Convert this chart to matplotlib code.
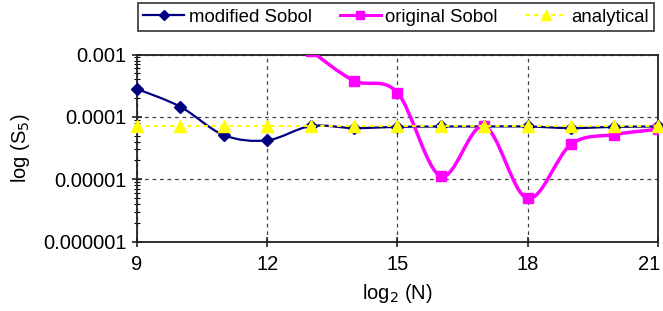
import numpy as np
import matplotlib.pyplot as plt
from matplotlib.path import Path
from matplotlib.patches import PathPatch
from matplotlib.lines import Line2D
import matplotlib.transforms as mtransforms

plt.rcParams['font.family'] = ['Liberation Sans', 'DejaVu Sans']

# data
n_mod = [9, 10, 11, 12, 13, 14, 15, 16, 17, 18, 19, 20, 21]
s_mod = [2.8e-4, 1.45e-4, 5.1e-5, 4.2e-5, 7.1e-5, 6.6e-5, 6.9e-5,
         7.0e-5, 7.0e-5, 7.0e-5, 6.6e-5, 6.9e-5, 7.0e-5]
n_orig = [13, 14, 15, 16, 17, 18, 19, 20, 21]
s_orig = [1.15e-3, 3.8e-4, 2.45e-4, 1.12e-5, 7.1e-5, 4.9e-6, 3.6e-5, 5.2e-5, 6.3e-5]
n_an = [9, 10, 11, 12, 13, 14, 15, 16, 17, 18, 19, 20, 21]
s_an = [7.2e-5] * 13

yticks = [1e-3, 1e-4, 1e-5, 1e-6]
ylabels = ['0.001', '0.0001', '0.00001', '0.000001']
xticks = [9, 12, 15, 18, 21]


def smooth_path(x, y, t=1/6):
    # excel-like smoothed line: bezier segments in (x, log y) space
    x = np.asarray(x, float)
    ly = np.log10(y)
    pts = np.column_stack([x, ly])
    verts = [pts[0]]
    codes = [Path.MOVETO]
    n = len(pts)
    for i in range(n - 1):
        p0 = pts[max(i - 1, 0)]
        p1 = pts[i]
        p2 = pts[i + 1]
        p3 = pts[min(i + 2, n - 1)]
        c1 = p1 + (p2 - p0) * t
        c2 = p2 - (p3 - p1) * t
        verts += [c1, c2, p2]
        codes += [Path.CURVE4] * 3
    verts = np.array(verts)
    verts[:, 1] = 10 ** verts[:, 1]
    return Path(verts, codes)


fig = plt.figure(figsize=(6.63, 3.11), dpi=100)
ax = fig.add_axes([137 / 663, 1 - 241.5 / 311, 520.7 / 663, 187 / 311])
ax.set_yscale('log')
ax.set_xlim(9, 21)
ax.set_ylim(1e-6, 1e-3)

navy = '#000080'
mag = '#FF00FF'
yel = '#FFFF00'

ax.add_patch(PathPatch(smooth_path(n_mod, s_mod), fill=False, ec=navy, lw=1.6, zorder=3))
ax.plot(n_mod, s_mod, ls='none', marker='D', ms=6, color=navy, zorder=3, clip_on=False)

ax.add_patch(PathPatch(smooth_path(n_orig, s_orig), fill=False, ec=mag, lw=2.5, zorder=4))
ax.plot(n_orig, s_orig, ls='none', marker='s', ms=7, color=mag, zorder=4)

ax.plot(n_an, s_an, ls=(0, (2, 2)), lw=1.5, color=yel, marker='^', ms=8,
        mfc=yel, mec=yel, zorder=5, clip_on=False)

ax.set_xticks(xticks)
ax.set_yticks(yticks)
ax.set_yticklabels(ylabels)
ax.tick_params(axis='both', labelsize=14.5, direction='inout', length=7, width=1.2, colors='#222222')
ax.tick_params(axis='x', pad=6, labelcolor='black')
ax.tick_params(axis='y', pad=4, labelcolor='black')
ax.tick_params(axis='y', which='minor', direction='inout', length=4, width=0.8)

# last x label sits a bit left of its tick, as in the reference
lab21 = ax.get_xticklabels()[-1]
lab21.set_horizontalalignment('right')
lab21.set_transform(lab21.get_transform() + mtransforms.ScaledTranslation(3 / 100, 0, fig.dpi_scale_trans))

ax.grid(True, which='major', ls=(0, (3, 3)), color='#444444', lw=0.9)
for s in ax.spines.values():
    s.set_color('#222222')
    s.set_linewidth(1.3)

ax.set_xlabel('log$_2$ (N)', fontsize=14.5, labelpad=6)
ax.set_ylabel('log (S$_5$)', fontsize=14.5, labelpad=8)

handles = [
    Line2D([], [], color=navy, lw=1.6, marker='D', ms=5),
    Line2D([], [], color=mag, lw=2.2, marker='s', ms=6),
    Line2D([], [], color=yel, lw=1.5, ls=(0, (2, 2)), marker='^', ms=7),
]
leg = fig.legend(handles, ['modified Sobol', 'original Sobol', 'analytical'],
                 loc='upper center', bbox_to_anchor=(396 / 663, 1 - 3 / 311),
                 ncol=3, fontsize=13.4, frameon=True, fancybox=False,
                 edgecolor='black', handlelength=2.2, handletextpad=0.25,
                 columnspacing=1.5, borderpad=0.3, borderaxespad=0)
leg.get_frame().set_linewidth(1.2)

fig.savefig('out.png', dpi=100)
